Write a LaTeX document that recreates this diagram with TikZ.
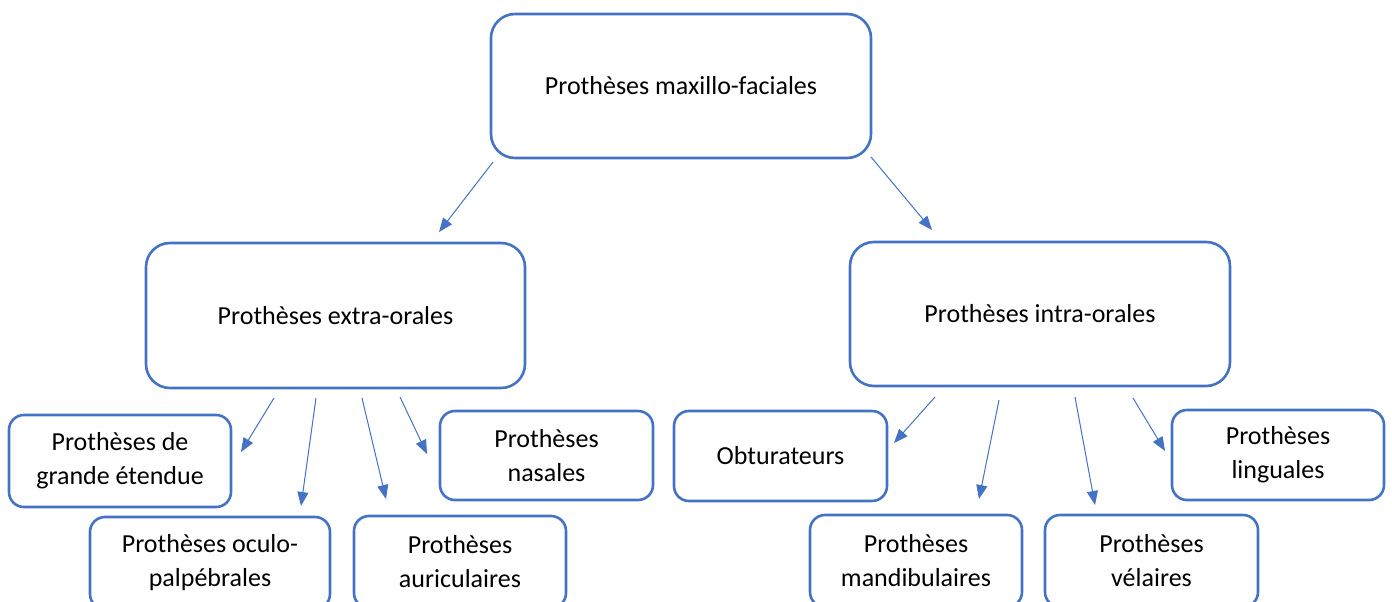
\documentclass[tikz,border=0pt]{standalone}
\usepackage{fontspec}
\setmainfont{Carlito}
\usetikzlibrary{arrows.meta}
\definecolor{bl}{HTML}{4472C4}
\tikzset{
  bigbox/.style={draw=bl, line width=2.6pt, rounded corners=24pt, fill=white, align=center, font=\fontsize{26}{34}\selectfont, inner sep=0pt},
  smallbox/.style={draw=bl, line width=2.6pt, rounded corners=15pt, fill=white, align=center, font=\fontsize{26}{34}\selectfont, inner sep=0pt},
  arr/.style={draw=bl, line width=1pt, -{Triangle[length=14pt,width=11pt]}}
}
\begin{document}
\begin{tikzpicture}[x=1pt,y=-1pt]
\useasboundingbox (0,0) rectangle (1392,602);
\clip (0,0) rectangle (1392,602);
\fill[white] (0,0) rectangle (1392,602);
% big boxes
\node[bigbox, minimum width=380pt, minimum height=144pt] (top) at (681,86) {Prothèses maxillo-faciales};
\node[bigbox, minimum width=379pt, minimum height=145pt] (extra) at (335.5,315.5) {Prothèses extra-orales};
\node[bigbox, minimum width=380pt, minimum height=144pt] (intra) at (1040,314) {Prothèses intra-orales};
% small boxes
\node[smallbox, minimum width=222pt, minimum height=92pt] (grande) at (120,461) {Prothèses de\\grande étendue};
\node[smallbox, minimum width=240pt, minimum height=92pt] (oculo) at (210,563) {Prothèses oculo-\\palpébrales};
\node[smallbox, minimum width=212pt, minimum height=92pt] (auri) at (460,562) {Prothèses\\auriculaires};
\node[smallbox, minimum width=213pt, minimum height=89pt] (nasal) at (546.5,455.5) {Prothèses\\nasales};
\node[smallbox, minimum width=213pt, minimum height=90pt] (obtu) at (780.5,456) {Obturateurs};
\node[smallbox, minimum width=212pt, minimum height=92pt] (mandi) at (916,561) {Prothèses\\mandibulaires};
\node[smallbox, minimum width=213pt, minimum height=92pt] (vela) at (1151.5,561) {Prothèses\\vélaires};
\node[smallbox, minimum width=212pt, minimum height=90pt] (lingu) at (1278,455) {Prothèses\\linguales};
% arrow coordinates (free-floating arrows)
\coordinate (a1s) at (493,162); \coordinate (a1e) at (439,232);
\coordinate (a2s) at (871,157); \coordinate (a2e) at (932,230);
\coordinate (b1s) at (274,398); \coordinate (b1e) at (241,452);
\coordinate (b2s) at (316,398); \coordinate (b2e) at (301,506);
\coordinate (b3s) at (362,398); \coordinate (b3e) at (386,499);
\coordinate (b4s) at (400,397); \coordinate (b4e) at (427,454);
\coordinate (c1s) at (935,397); \coordinate (c1e) at (894,443);
\coordinate (c2s) at (999,400); \coordinate (c2e) at (979,499);
\coordinate (c3s) at (1075,397); \coordinate (c3e) at (1095,505);
\coordinate (c4s) at (1133,398); \coordinate (c4e) at (1165,451);
\draw[arr] (a1s) -- (a1e);
\draw[arr] (a2s) -- (a2e);
\draw[arr] (b1s) -- (b1e);
\draw[arr] (b2s) -- (b2e);
\draw[arr] (b3s) -- (b3e);
\draw[arr] (b4s) -- (b4e);
\draw[arr] (c1s) -- (c1e);
\draw[arr] (c2s) -- (c2e);
\draw[arr] (c3s) -- (c3e);
\draw[arr] (c4s) -- (c4e);
\end{tikzpicture}
\end{document}
